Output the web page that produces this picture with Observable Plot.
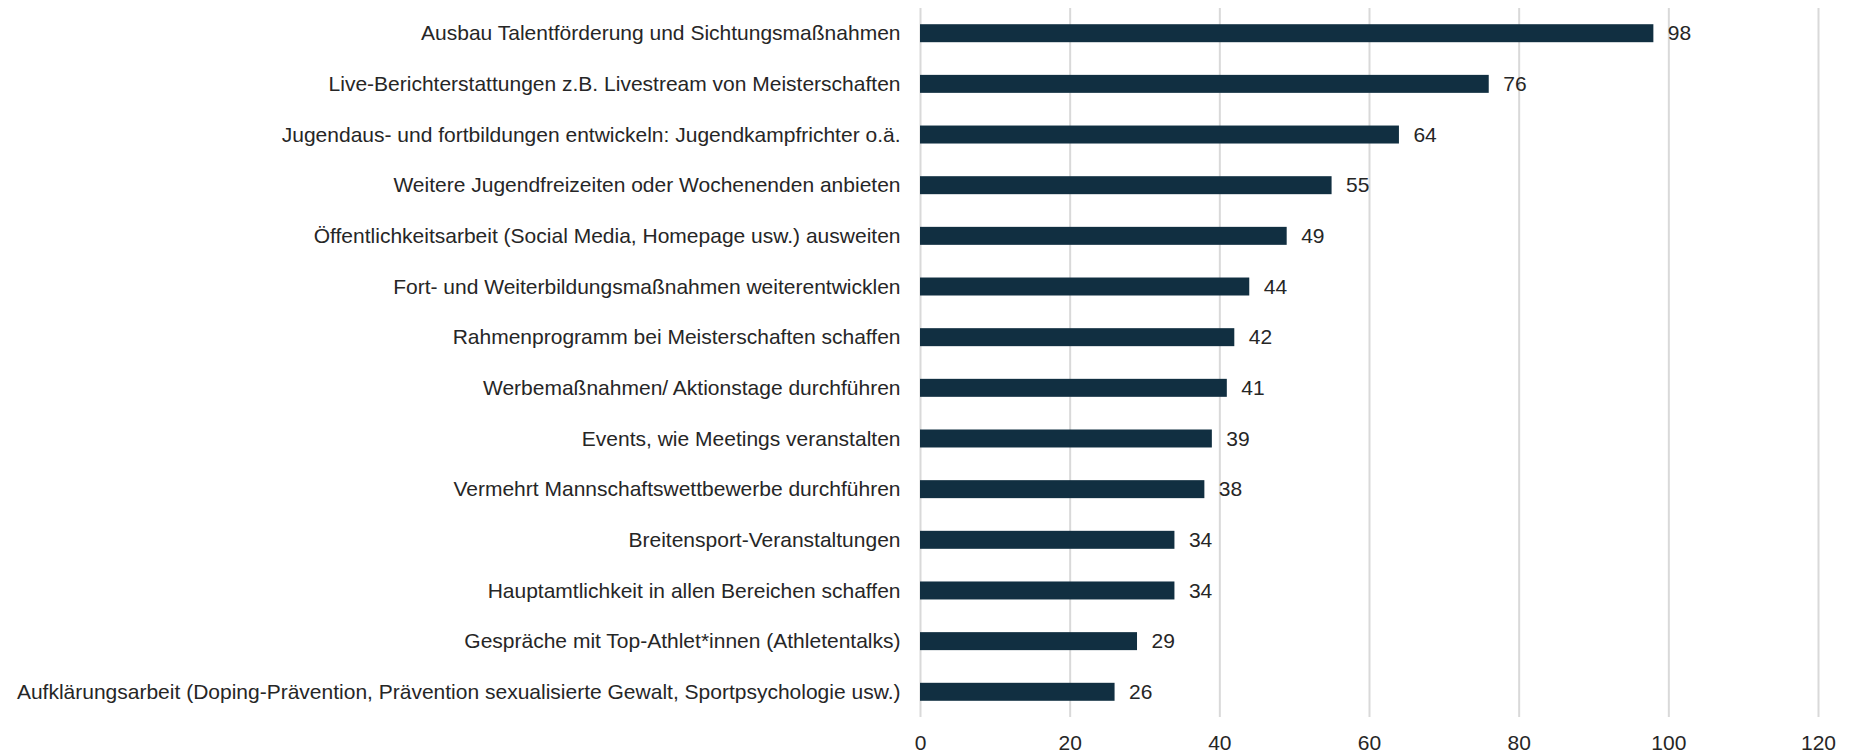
<!DOCTYPE html>
<html>
<head>
<meta charset="utf-8">
<script src="https://cdn.jsdelivr.net/npm/d3@7"></script>
<script src="https://cdn.jsdelivr.net/npm/@observablehq/plot@0.6"></script>
<style>
  html, body { margin: 0; padding: 0; background: #fff; }
  #chart svg { display: block; }
</style>
</head>
<body>
<div id="chart"></div>
<script>
const categories = [
  "Ausbau Talentförderung und Sichtungsmaßnahmen",
  "Live-Berichterstattungen z.B. Livestream von Meisterschaften",
  "Jugendaus- und fortbildungen entwickeln: Jugendkampfrichter o.ä.",
  "Weitere Jugendfreizeiten oder Wochenenden anbieten",
  "Öffentlichkeitsarbeit (Social Media, Homepage usw.) ausweiten",
  "Fort- und Weiterbildungsmaßnahmen weiterentwicklen",
  "Rahmenprogramm bei Meisterschaften schaffen",
  "Werbemaßnahmen/ Aktionstage durchführen",
  "Events, wie Meetings veranstalten",
  "Vermehrt Mannschaftswettbewerbe durchführen",
  "Breitensport-Veranstaltungen",
  "Hauptamtlichkeit in allen Bereichen schaffen",
  "Gespräche mit Top-Athlet*innen (Athletentalks)",
  "Aufklärungsarbeit (Doping-Prävention, Prävention sexualisierte Gewalt, Sportpsychologie usw.)"
];
const values = [98, 76, 64, 55, 49, 44, 42, 41, 39, 38, 34, 34, 29, 26];
const xTicks = [0, 20, 40, 60, 80, 100, 120];

const data = categories.map((c, i) => ({category: c, value: values[i]}));

const chart = Plot.plot({
  width: 1852,
  height: 754,
  marginLeft: 920,
  marginRight: 34,
  marginTop: 8,
  marginBottom: 37,
  style: {fontFamily: "'Liberation Sans', Arial, sans-serif", fontSize: "21px", color: "#262626", background: "#fff"},
  x: {domain: [0, 120], ticks: xTicks, label: null},
  y: {domain: categories, label: null, paddingInner: 0.645, paddingOuter: 0.32, round: false},
  marks: [
    Plot.ruleX(xTicks, {stroke: "#d9d9d9", strokeWidth: 2, strokeOpacity: 1}),
    Plot.barX(data, {x: "value", y: "category", fill: "#112f41"}),
    Plot.text(data, {x: "value", y: "category", text: d => String(d.value), textAnchor: "start", dx: 14, fontSize: 21, fill: "#262626"}),
    Plot.axisY({tickSize: 0, tickPadding: 20, fontSize: 21, label: null}),
    Plot.axisX({ticks: xTicks, tickSize: 0, tickPadding: 18, fontSize: 21, label: null})
  ]
});
document.getElementById("chart").appendChild(chart);
</script>
</body>
</html>
